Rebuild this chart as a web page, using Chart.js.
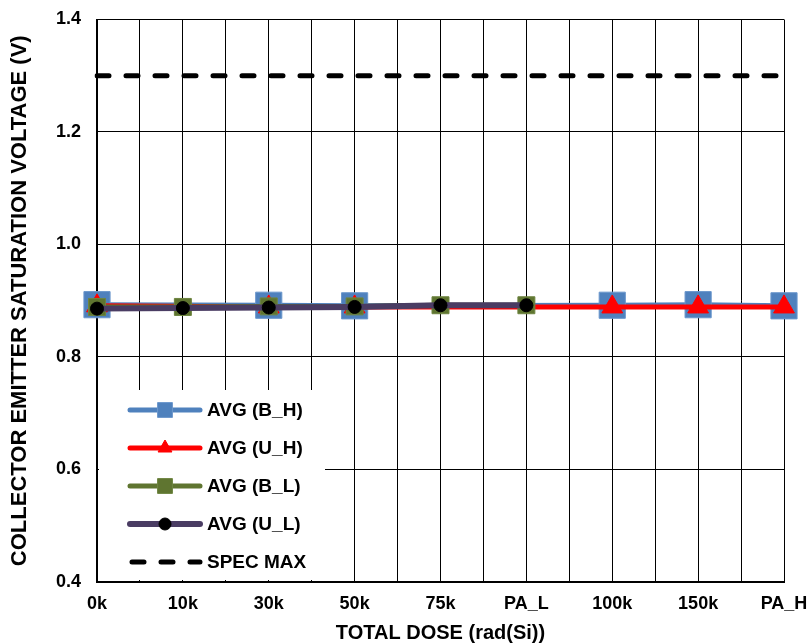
<!DOCTYPE html>
<html>
<head>
<meta charset="utf-8">
<script src="https://cdn.jsdelivr.net/npm/chart.js@4/dist/chart.umd.min.js"></script>
<style>
  body { margin: 0; background: #fff; }
  #wrap { width: 810px; height: 644px; }
</style>
</head>
<body>
<div id="wrap"><canvas id="vce-chart" width="810" height="644"></canvas></div>
<script>
const doseLabels = ["0k", "10k", "30k", "50k", "75k", "PA_L", "100k", "150k", "PA_H"];

// averages (V)
const avgBH = [0.893, null, 0.892, 0.891, null, null, 0.892, 0.893, 0.891];
const avgUH = [0.891, null, 0.889, 0.889, null, null, 0.889, 0.889, 0.889];
const avgBL = [0.889, 0.889, 0.890, 0.890, 0.892, 0.892, null, null, null];
const avgUL = [0.886, 0.887, 0.888, 0.889, 0.892, 0.892, null, null, null];
const specMax = [1.3, 1.3, 1.3, 1.3, 1.3, 1.3, 1.3, 1.3, 1.3];

const FONT = "'Liberation Sans', Arial, sans-serif";

// gridlines sit at every half category, like the excel original
const gridSteps = [];
for (let i = 0; i <= (doseLabels.length - 1) * 2; i++) gridSteps.push(i / 2);

const legendMarks = [
  { style: "rect", radius: 10.5 },
  { style: "triangle", radius: 8 },
  { style: "rect", radius: 10.5 },
  { style: "circle", radius: 6 },
  { style: false, radius: 0 },
];

const insideLegend = {
  id: "insideLegend",
  afterDraw(chart) {
    const ctx = chart.ctx;
    const area = chart.chartArea;
    ctx.save();
    ctx.fillStyle = "#fff";
    ctx.fillRect(area.left + 2, 390, 226, area.bottom - 392);

    chart.data.datasets.forEach((ds, i) => {
      const y = 410 + i * 38;
      ctx.save();
      ctx.strokeStyle = ds.borderColor;
      ctx.lineWidth = ds.borderWidth;
      ctx.lineCap = ds.borderCapStyle || "round";
      ctx.setLineDash(ds.borderDash || []);
      ctx.beginPath();
      ctx.moveTo(ds.borderDash ? 132 : 130, y);
      ctx.lineTo(200, y);
      ctx.stroke();
      ctx.restore();

      const m = legendMarks[i];
      if (m.style) {
        ctx.save();
        ctx.fillStyle = ds.pointBackgroundColor;
        ctx.strokeStyle = ds.pointBorderColor;
        ctx.lineWidth = 1;
        Chart.helpers.drawPoint(ctx, { pointStyle: m.style, radius: m.radius, rotation: 0, borderWidth: 1 }, 165, y);
        ctx.restore();
      }

      ctx.fillStyle = "#000";
      ctx.font = "bold 19px " + FONT;
      ctx.textBaseline = "middle";
      ctx.textAlign = "left";
      ctx.fillText(ds.label, 207, y + 1);
    });
    ctx.restore();
  },
};

const ctx = document.getElementById("vce-chart").getContext("2d");

new Chart(ctx, {
  type: "line",
  data: {
    labels: doseLabels,
    datasets: [
      {
        label: "AVG (B_H)",
        data: avgBH,
        borderColor: "#4F81BD",
        borderWidth: 5,
        pointStyle: "rect",
        pointRadius: 18.5,
        pointBackgroundColor: "#4F81BD",
        pointBorderColor: "#6B97CC",
        pointBorderWidth: 1,
        spanGaps: true,
        order: 4,
      },
      {
        label: "AVG (U_H)",
        data: avgUH,
        borderColor: "#FF0000",
        borderWidth: 5,
        pointStyle: "triangle",
        pointRadius: 12,
        pointBackgroundColor: "#FF0000",
        pointBorderColor: "#FF0000",
        pointBorderWidth: 1,
        spanGaps: true,
        order: 3,
      },
      {
        label: "AVG (B_L)",
        data: avgBL,
        borderColor: "#5F7530",
        borderWidth: 5,
        pointStyle: "rect",
        pointRadius: 12,
        pointBackgroundColor: "#5F7530",
        pointBorderColor: "#6E8540",
        pointBorderWidth: 1,
        order: 2,
      },
      {
        label: "AVG (U_L)",
        data: avgUL,
        borderColor: "#4A3C63",
        borderWidth: 6,
        pointStyle: "circle",
        pointRadius: 6.5,
        pointBackgroundColor: "#000000",
        pointBorderColor: "#000000",
        pointBorderWidth: 1,
        order: 1,
      },
      {
        label: "SPEC MAX",
        data: specMax,
        borderColor: "#000000",
        borderWidth: 5,
        borderDash: [12, 17],
        borderCapStyle: "round",
        pointRadius: 0,
        pointBackgroundColor: "#000000",
        pointBorderColor: "#000000",
        order: 5,
      },
    ],
  },
  options: {
    responsive: false,
    animation: false,
    elements: { line: { tension: 0, borderJoinStyle: "round" } },
    layout: { padding: { left: 0, right: 26, top: 16, bottom: 0 } },
    plugins: {
      legend: { display: false },
      tooltip: { enabled: false },
    },
    scales: {
      x: {
        offset: false,
        afterBuildTicks: (scale) => {
          scale.ticks = gridSteps.map((v) => ({ value: v }));
        },
        afterFit: (scale) => {
          scale.height = 62;
          scale.paddingLeft = 0;
          scale.paddingRight = 0;
        },
        grid: { color: "#000", lineWidth: 1, drawTicks: false, offset: false },
        border: { color: "#000", width: 2 },
        ticks: {
          autoSkip: false,
          maxRotation: 0,
          minRotation: 0,
          padding: 11,
          color: "#000",
          font: { family: FONT, size: 18, weight: "bold" },
          callback: (value) => (Number.isInteger(value) ? doseLabels[value] : ""),
        },
        title: {
          display: true,
          text: "TOTAL DOSE (rad(Si))",
          color: "#000",
          font: { family: FONT, size: 20, weight: "bold", lineHeight: 1 },
          padding: { top: 0, bottom: 1 },
        },
      },
      y: {
        min: 0.4,
        max: 1.4,
        afterFit: (scale) => {
          scale.width = 97;
          scale.paddingTop = 0;
          scale.paddingBottom = 0;
        },
        grid: { color: "#000", lineWidth: 1, drawTicks: false },
        border: { color: "#000", width: 2 },
        ticks: {
          stepSize: 0.2,
          padding: 16,
          color: "#000",
          font: { family: FONT, size: 18, weight: "bold" },
          callback: (v) => v.toFixed(1),
        },
        title: {
          display: true,
          text: "COLLECTOR EMITTER SATURATION VOLTAGE (V)",
          color: "#000",
          font: { family: FONT, size: 22, weight: "bold", lineHeight: 1 },
          padding: { top: 9, bottom: 0 },
        },
      },
    },
  },
  plugins: [insideLegend],
});
</script>
</body>
</html>
